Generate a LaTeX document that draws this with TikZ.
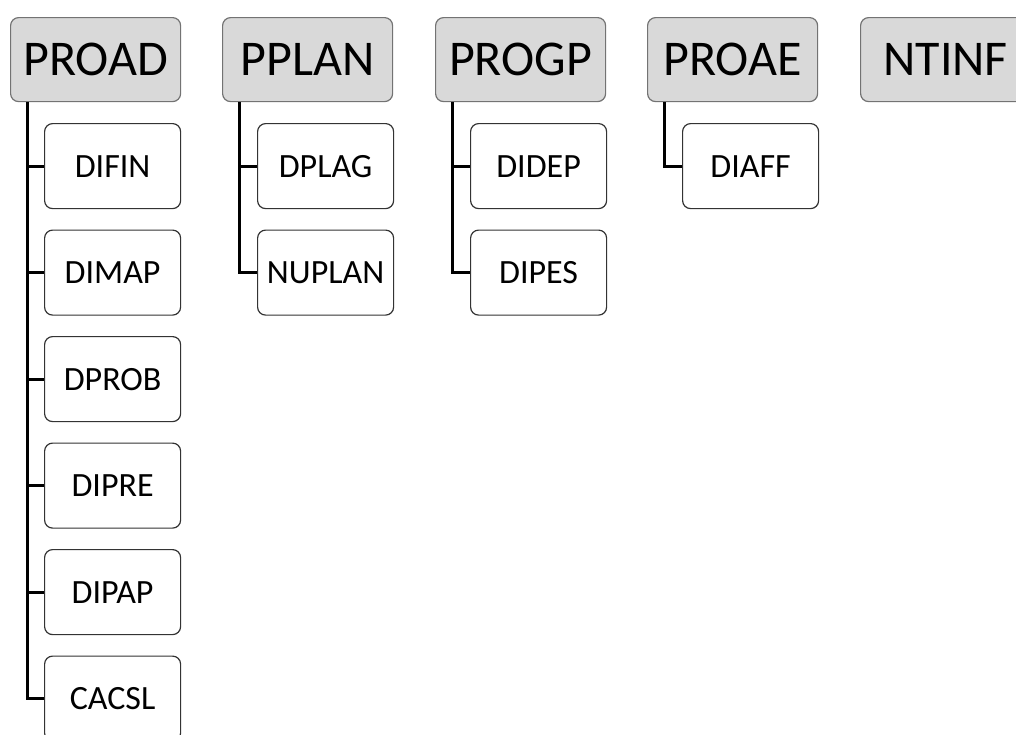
\documentclass[tikz,border=0pt]{standalone}
\usepackage{fontspec}
\setmainfont{Carlito}
\begin{document}
\begin{tikzpicture}[x=1pt,y=-1pt,
  topbox/.style={draw=black!55,line width=1.2pt,fill=black!15,rounded corners=8pt,
    minimum width=170pt,minimum height=84pt,inner sep=0pt,anchor=north west,font=\fontsize{50}{52}\selectfont},
  subbox/.style={draw=black!80,line width=1.2pt,fill=white,rounded corners=8pt,
    minimum width=136pt,minimum height=85pt,inner sep=0pt,anchor=north west,font=\fontsize{34}{36}\selectfont},
  conn/.style={line width=3pt,black}]
\useasboundingbox (0,0) rectangle (1016,734);
\begin{scope}
\clip (0,0) rectangle (1016,734);
% top level
\node[topbox] (PROAD) at (10,17) {PROAD};
\node[topbox] (PPLAN) at (222,17) {PPLAN};
\node[topbox] (PROGP) at (435,17) {PROGP};
\node[topbox] (PROAE) at (647,17) {PROAE};
\node[topbox] (NTINF) at (860,17) {NTINF};
% PROAD children
\node[subbox] (DIFIN) at (44,123) {DIFIN};
\node[subbox] (DIMAP) at (44,229.5) {DIMAP};
\node[subbox] (DPROB) at (44,336) {DPROB};
\node[subbox] (DIPRE) at (44,442.5) {DIPRE};
\node[subbox] (DIPAP) at (44,549) {DIPAP};
\node[subbox] (CACSL) at (44,655.5) {CACSL};
% PPLAN children
\node[subbox] (DPLAG) at (257,123) {DPLAG};
\node[subbox] (NUPLAN) at (257,229.5) {NUPLAN};
% PROGP children
\node[subbox] (DIDEP) at (470,123) {DIDEP};
\node[subbox] (DIPES) at (470,229.5) {DIPES};
% PROAE children
\node[subbox] (DIAFF) at (682,123) {DIAFF};
% connector line coordinates
\coordinate (LA) at ([xshift=17pt]PROAD.south west);
\coordinate (LB) at ([xshift=17pt]PPLAN.south west);
\coordinate (LC) at ([xshift=17pt]PROGP.south west);
\coordinate (LD) at ([xshift=17pt]PROAE.south west);
% connectors
\draw[conn] (LA) |- (CACSL.west);
\foreach \c in {DIFIN,DIMAP,DPROB,DIPRE,DIPAP}
  \draw[conn] (LA |- \c.west) -- (\c.west);
\draw[conn] (LB) |- (NUPLAN.west);
\draw[conn] (LB |- DPLAG.west) -- (DPLAG.west);
\draw[conn] (LC) |- (DIPES.west);
\draw[conn] (LC |- DIDEP.west) -- (DIDEP.west);
\draw[conn] (LD) |- (DIAFF.west);
\end{scope}
\end{tikzpicture}
\end{document}
